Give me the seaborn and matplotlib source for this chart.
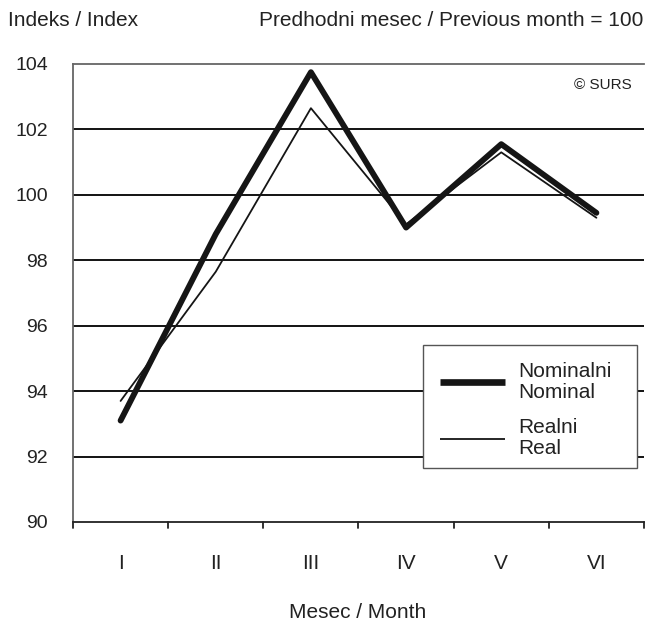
import matplotlib
matplotlib.use("Agg")
import matplotlib.pyplot as plt
import seaborn as sns
import pandas as pd
from matplotlib.lines import Line2D
from matplotlib.patches import Rectangle

months = ["I", "II", "III", "IV", "V", "VI"]
nominal = [93.1, 98.8, 103.75, 99.0, 101.55, 99.45]
real = [93.7, 97.65, 102.65, 99.1, 101.3, 99.3]
y_ticks = [90, 92, 94, 96, 98, 100, 102, 104]
series_names = ["Nominalni\nNominal", "Realni\nReal"]

sns.set_theme(style="white")
plt.rcParams['font.family'] = ['Liberation Sans', 'DejaVu Sans']

df = pd.DataFrame({
    "pos": list(range(len(months))) * 2,
    "value": nominal + real,
    "series": [series_names[0]] * len(months) + [series_names[1]] * len(months),
})

W, H = 645, 623
fig = plt.figure(figsize=(6.45, 6.23), dpi=100)
ax = fig.add_axes([73/W, 1 - 522/H, (644 - 73)/W, (522 - 64)/H])

for yv in y_ticks[1:-1]:
    ax.axhline(yv, color="black", lw=1.3, zorder=1)

widths = {series_names[0]: 4.2, series_names[1]: 1.3}
sns.lineplot(data=df, x="pos", y="value", hue="series", size="series",
             sizes=widths,
             palette={series_names[0]: "#151515", series_names[1]: "#151515"},
             ax=ax, legend=False, zorder=3)

FS = 15
ax.set_xlim(-0.5, 5.5)
ax.set_ylim(90, 104)
ax.set_yticks(y_ticks)
ax.set_yticklabels([str(v) for v in y_ticks], fontsize=14)
ax.set_xticks(range(len(months)))
ax.set_xticklabels(months, fontsize=FS)
ax.tick_params(axis="x", length=0, pad=23, colors="#222222")
ax.tick_params(axis="y", length=0, pad=18, colors="#222222")
for b in [x - 0.5 for x in range(len(months) + 1)]:
    ax.plot([b, b], [0, -0.014], transform=ax.get_xaxis_transform(), color="#222222",
            lw=1.3, clip_on=False)
ax.set_xlabel("")
ax.set_ylabel("")

for s in ["left", "bottom", "top"]:
    ax.spines[s].set_visible(True)
    ax.spines[s].set_color("#666666")
    ax.spines[s].set_linewidth(1.3)
ax.spines["bottom"].set_color("#222222")
ax.spines["right"].set_visible(False)

# legend box (drawn in figure pixel space)
fig.add_artist(Rectangle((423/W, 1 - 468/H), (637 - 423)/W, (468 - 345)/H,
                         transform=fig.transFigure, facecolor="white",
                         edgecolor="#555555", lw=1.0, zorder=5))
for name, hy, ty in [(series_names[0], 382, 382), (series_names[1], 439, 438)]:
    fig.add_artist(Line2D([440/W, 505/W], [1 - hy/H, 1 - hy/H], transform=fig.transFigure,
                          color="#151515", lw=widths[name] + (0.6 if name == series_names[0] else 0),
                          solid_capstyle="butt", zorder=6))
    fig.text(518/W, 1 - ty/H, name, fontsize=FS, ha="left", va="center",
             linespacing=1.15, color="#222222", zorder=6)

fig.text(8/W, 1 - 21/H, "Indeks / Index", fontsize=FS, ha="left", va="center", color="#222222")
fig.text(643/W, 1 - 21/H, "Predhodni mesec / Previous month = 100", fontsize=FS,
         ha="right", va="center", color="#222222")
fig.text(632/W, 1 - 85/H, "© SURS", fontsize=11, ha="right", va="center", color="#222222")
fig.text(358/W, 1 - 612/H, "Mesec / Month", fontsize=FS, ha="center", va="center", color="#222222")

fig.savefig("out.png", dpi=100)
